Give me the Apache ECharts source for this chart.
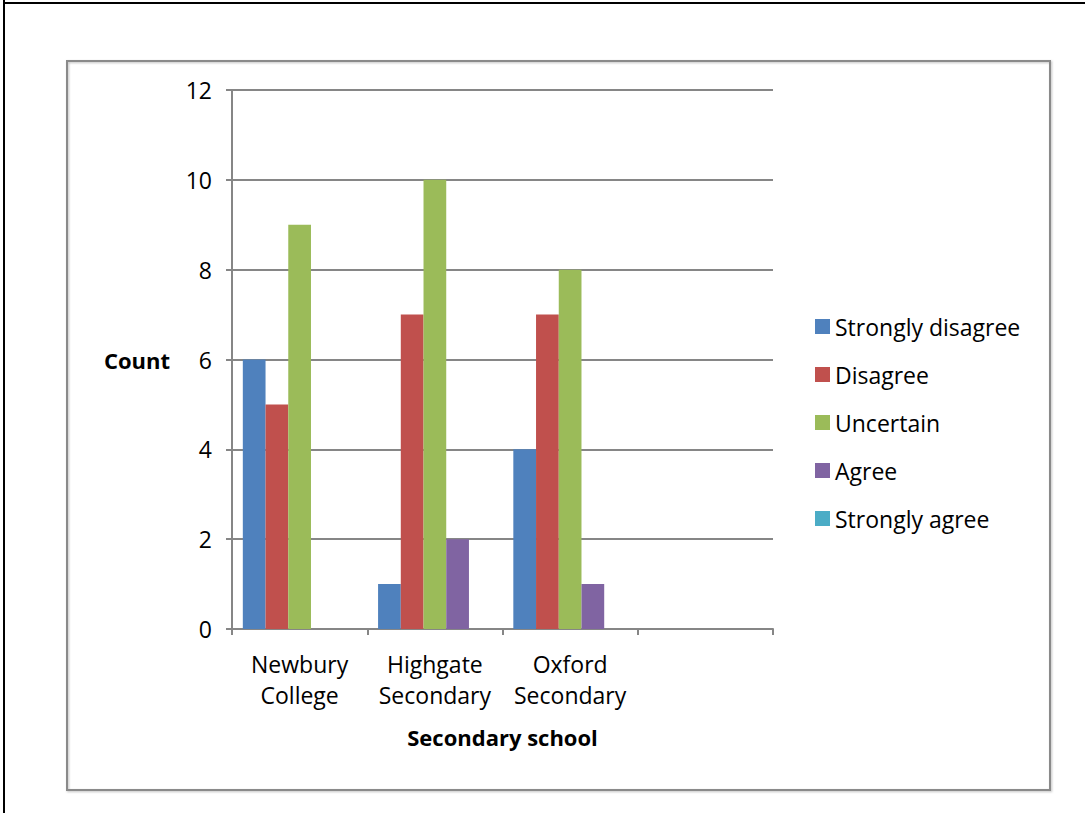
<!DOCTYPE html>
<html>
<head>
<meta charset="utf-8">
<script src="https://cdn.jsdelivr.net/npm/echarts@6/dist/echarts.min.js"></script>
<style>
  html, body { margin: 0; padding: 0; background: #fff; }
  #chart { width: 1085px; height: 813px; }
</style>
</head>
<body>
<div id="chart"></div>
<script>
// Survey responses per secondary school
const schools = ['Newbury\nCollege', 'Highgate\nSecondary', 'Oxford\nSecondary', ''];
const responseNames = ['Strongly disagree', 'Disagree', 'Uncertain', 'Agree', 'Strongly agree'];
const stronglyDisagree = [6, 1, 4, null];
const disagree = [5, 7, 7, null];
const uncertain = [9, 10, 8, null];
const agree = [0, 2, 1, null];
const stronglyAgree = [0, 0, 0, null];
const yTicks = { min: 0, max: 12, interval: 2 };

const palette = ['#4F81BD', '#C0504D', '#9BBB59', '#8064A2', '#4BACC6'];
const seriesValues = [stronglyDisagree, disagree, uncertain, agree, stronglyAgree];
const font = '"Open Sans", "Liberation Sans", sans-serif';

const chart = echarts.init(document.getElementById('chart'), null, { renderer: 'svg' });
chart.setOption({
  animation: false,
  color: palette,
  graphic: [
    // page frame
    { type: 'line', shape: { x1: 4, y1: 0, x2: 4, y2: 813 }, style: { stroke: '#000', lineWidth: 2 } },
    { type: 'line', shape: { x1: 3, y1: 3, x2: 1085, y2: 3 }, style: { stroke: '#000', lineWidth: 2 } },
    // chart area border
    { type: 'rect', shape: { x: 67, y: 61, width: 983, height: 729 },
      style: { fill: 'none', stroke: '#8a8a8a', lineWidth: 2, shadowBlur: 2, shadowColor: 'rgba(0,0,0,0.25)', shadowOffsetX: 1, shadowOffsetY: 1 } }
  ],
  grid: { left: 232, top: 90, right: 312, bottom: 184 },
  legend: {
    orient: 'vertical', left: 815, top: 315, padding: 0,
    icon: 'rect', itemWidth: 15, itemHeight: 15, itemGap: 25,
    textStyle: { fontFamily: font, fontSize: 23, color: '#000' },
    data: responseNames
  },
  xAxis: {
    type: 'category', data: schools,
    name: 'Secondary school', nameLocation: 'middle', nameGap: 97,
    nameTextStyle: { fontFamily: font, fontSize: 22, fontWeight: 'bold', color: '#000' },
    axisLine: { lineStyle: { color: '#868686', width: 2 } },
    axisTick: { show: true, length: 6, lineStyle: { color: '#868686', width: 2 } },
    axisLabel: { interval: 0, hideOverlap: false, fontFamily: font, fontSize: 23, color: '#000', margin: 19, lineHeight: 31 }
  },
  yAxis: {
    type: 'value', min: yTicks.min, max: yTicks.max, interval: yTicks.interval,
    name: 'Count', nameLocation: 'middle', nameRotate: 0, nameGap: 62,
    nameTextStyle: { fontFamily: font, fontSize: 22, fontWeight: 'bold', color: '#000' },
    axisLine: { show: true, lineStyle: { color: '#868686', width: 2 } },
    axisTick: { show: true, length: 6, lineStyle: { color: '#868686', width: 2 } },
    axisLabel: { fontFamily: font, fontSize: 23, color: '#000', margin: 20 },
    splitLine: { lineStyle: { color: '#868686', width: 2 } }
  },
  series: responseNames.map((name, i) => ({
    name, type: 'bar', data: seriesValues[i],
    barGap: '0%', barCategoryGap: '16%',
    itemStyle: { color: palette[i] }
  }))
});
</script>
</body>
</html>
